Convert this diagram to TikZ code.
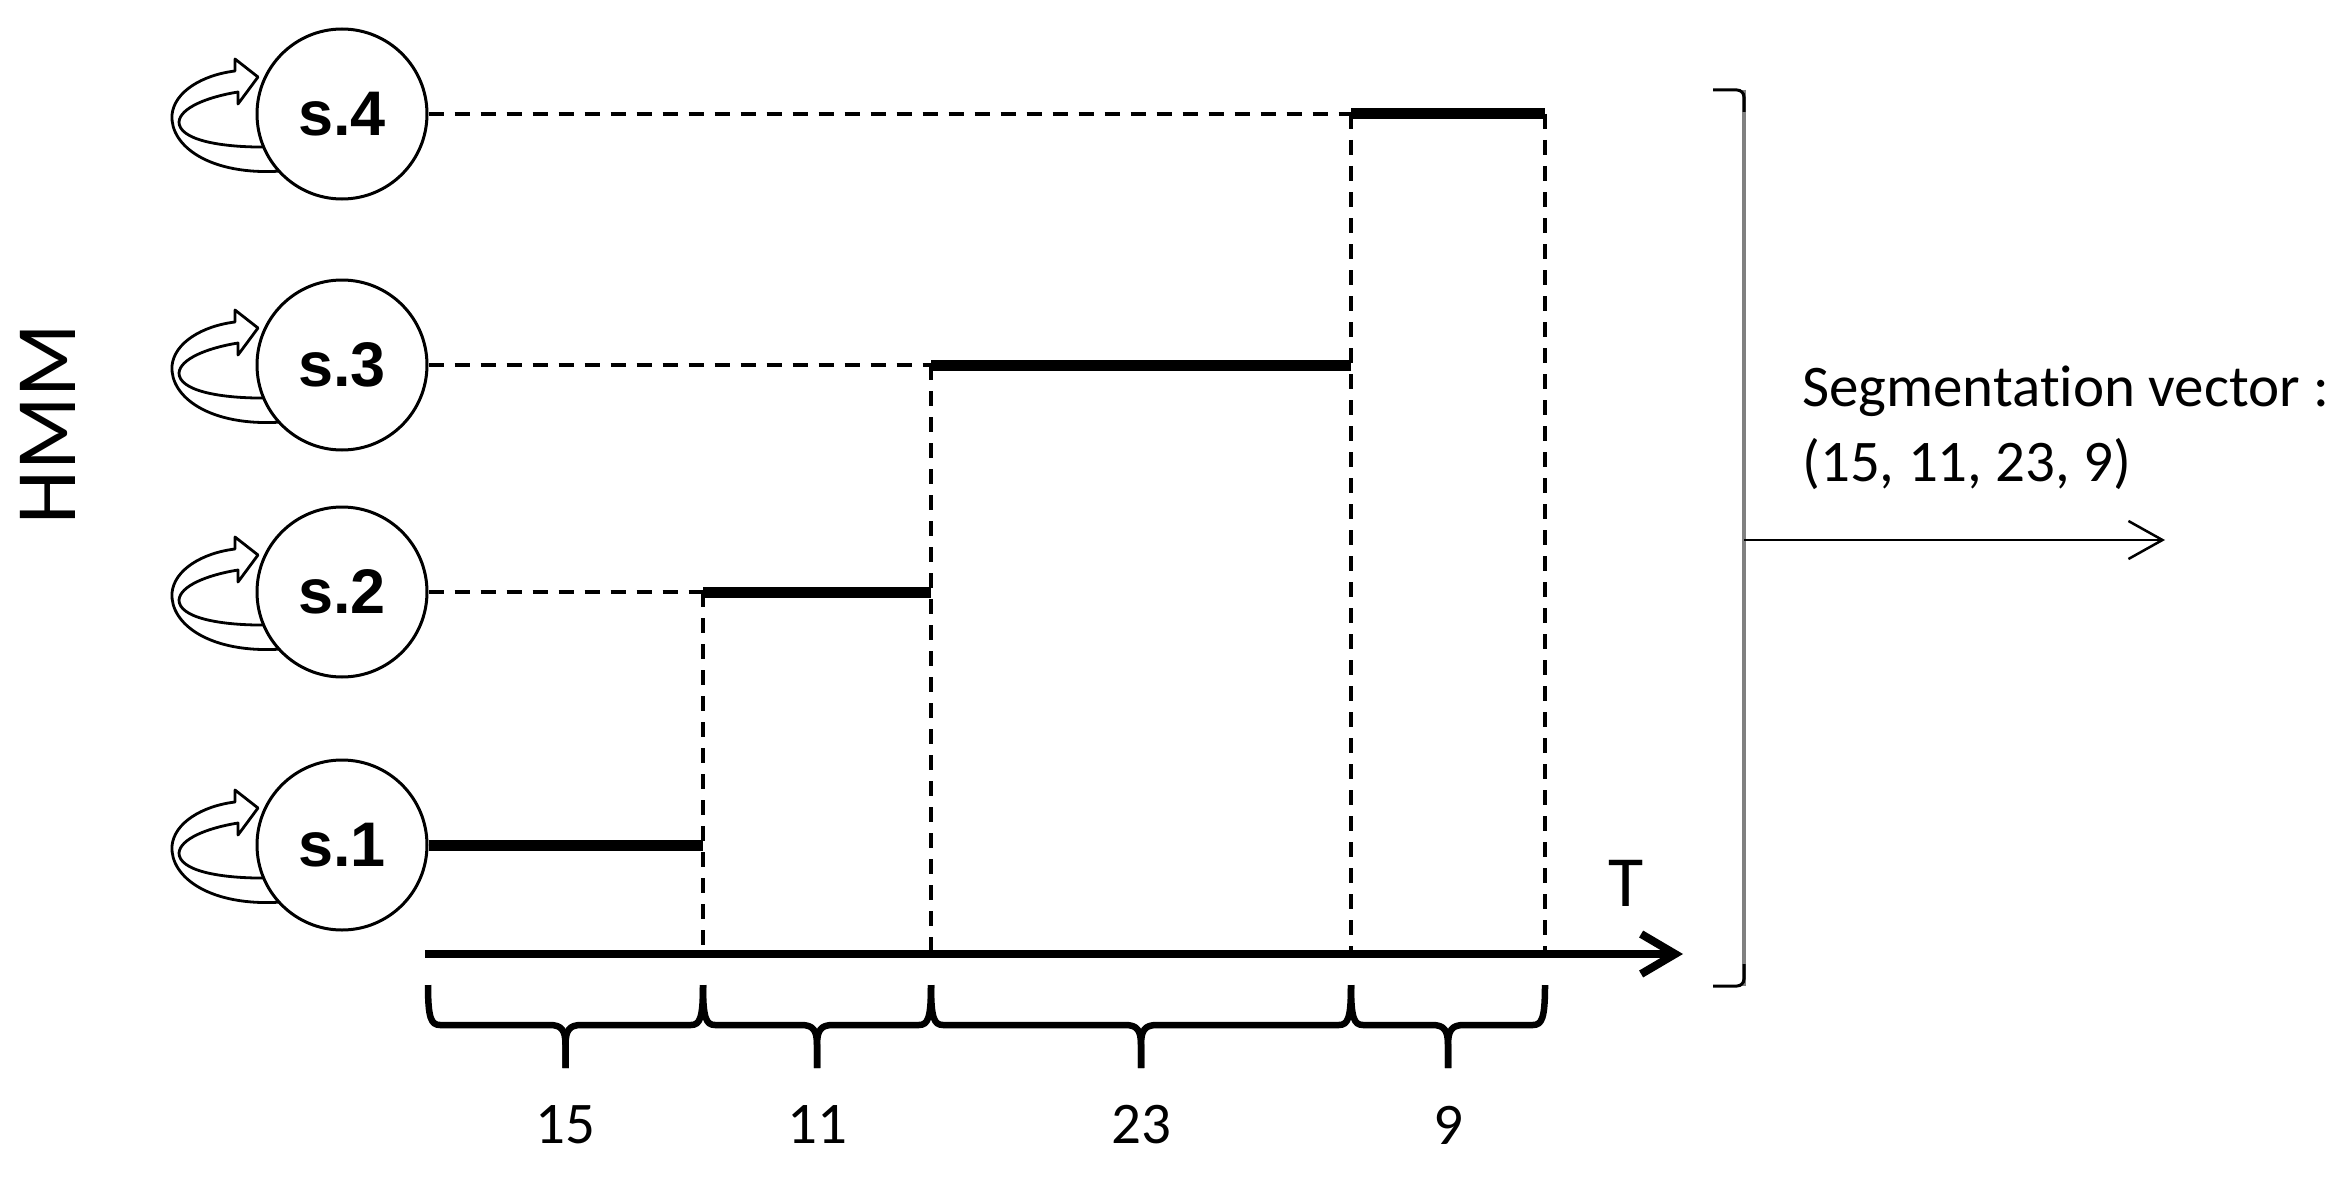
\documentclass[tikz,border=0pt]{standalone}
\usepackage{fontspec}
\setmainfont{Carlito}[Ligatures=NoCommon]
\newfontfamily\statefont{Liberation Sans}
\usetikzlibrary{arrows.meta}
\newcommand\selfloop[1]{%
  \draw[loopband, shift={(#1)}] (-60,57) .. controls (-132,62) and (-172,32) .. (-170,1)
    .. controls (-168,-22) and (-140,-39) .. (-107,-43)
    -- (-107,-55) -- (-84,-37) -- (-104,-10) -- (-104,-22)
    .. controls (-135,-17) and (-162,-6) .. (-163,8)
    .. controls (-163,25) and (-125,34) .. (-70,33) -- cycle;}
\newcommand\hbrace[2]{%
  \pgfmathsetmacro\bm{(#1+#2)/2}%
  \draw[bracepath] (#1,985) .. controls (#1,1018) and (#1+3,1025) .. (#1+12,1025)
    -- (\bm-16,1025) .. controls (\bm-4,1025) and (\bm,1030) .. (\bm,1045) -- (\bm,1068);
  \draw[bracepath] (#2,985) .. controls (#2,1018) and (#2-3,1025) .. (#2-12,1025)
    -- (\bm+16,1025) .. controls (\bm+4,1025) and (\bm,1030) .. (\bm,1045) -- (\bm,1068);}
\begin{document}
\begin{tikzpicture}[x=1pt,y=-1pt,
  state/.style={circle, draw, line width=3pt, fill=white, minimum size=170pt, inner sep=0pt,
    font=\statefont\bfseries\fontsize{63}{63}\selectfont},
  guide/.style={line width=3.5pt, dash pattern=on 15pt off 11pt},
  seg/.style={line width=11pt},
  loopband/.style={draw, line width=2.8pt, fill=white, line join=round},
  bracepath/.style={line width=6.5pt, line join=round},
  lbl/.style={font=\fontsize{59}{75}\selectfont, inner sep=0pt}]
\useasboundingbox (0,0) rectangle (2346,1188);
% state centres
\coordinate (c4) at (342,114);
\coordinate (c3) at (342,365);
\coordinate (c2) at (342,592);
\coordinate (c1) at (342,845);
\selfloop{c4}\selfloop{c3}\selfloop{c2}\selfloop{c1}
\node[state] (s4) at (c4) {s.4};
\node[state] (s3) at (c3) {s.3};
\node[state] (s2) at (c2) {s.2};
\node[state] (s1) at (c1) {s.1};
% segment boundaries
\coordinate (b1) at (703,845);
\coordinate (b2a) at (703,592);
\coordinate (b2) at (931,592);
\coordinate (b3a) at (931,365);
\coordinate (b3) at (1351,365);
\coordinate (b4a) at (1351,114);
\coordinate (b4) at (1545,114);
\coordinate (t1) at (703,954);
\coordinate (t2) at (931,954);
\coordinate (t3) at (1351,954);
\coordinate (t4) at (1545,954);
% dashed guides
\draw[guide] (s4.east) -- (b4a);
\draw[guide] (s3.east) -- (b3a);
\draw[guide] (s2.east) -- (b2a);
\draw[guide] (b2a) -- (t1);
\draw[guide] (b3a) -- (t2);
\draw[guide] (b4a) -- (t3);
\draw[guide] (b4) -- (t4);
% thick segments
\draw[seg] (s1.east) -- (b1);
\draw[seg] (b2a) -- (b2);
\draw[seg] (b3a) -- (b3);
\draw[seg] (b4a) -- (b4);
% time axis
\coordinate (ax0) at (425,954);
\coordinate (ax1) at (1683,954);
\draw[line width=8pt, -{Straight Barb[length=34pt,width=40pt]}] (ax0) -- (ax1);
\node[font=\fontsize{72}{72}\selectfont] (tlab) at (1626,883) {T};
% braces
\hbrace{428}{703}
\hbrace{703}{931}
\hbrace{931}{1351}
\hbrace{1351}{1545}
\node[lbl] (n15) at (565,1125) {15};
\node[lbl] (n11) at (817,1125) {11};
\node[lbl] (n23) at (1141,1125) {23};
\node[lbl] (n9) at (1448,1125) {9};
% HMM
\node[font=\fontsize{86}{86}\selectfont, rotate=90] (hmm) at (48,424) {HMM};
% right bracket
\coordinate (br1) at (1744,90);
\coordinate (br2) at (1744,986);
\coordinate (brm) at (1744,540);
\coordinate (vecend) at (2165,540);
\draw[line width=3.5pt, black!50] (br1) -- (br2);
\draw[line width=3pt, rounded corners=7pt] (1713,90) -- (br1) -- (1744,112);
\draw[line width=3pt, rounded corners=7pt] (1713,986) -- (br2) -- (1744,964);
\draw[line width=2.5pt, -{Straight Barb[length=34pt,width=38pt]}] (brm) -- (vecend);
\node[lbl, anchor=base west] (segtxt) at (1802,406) {Segmentation vector :};
\node[lbl, anchor=base west] (segvec) at (1802,481) {(15, 11, 23, 9)};
\end{tikzpicture}
\end{document}
